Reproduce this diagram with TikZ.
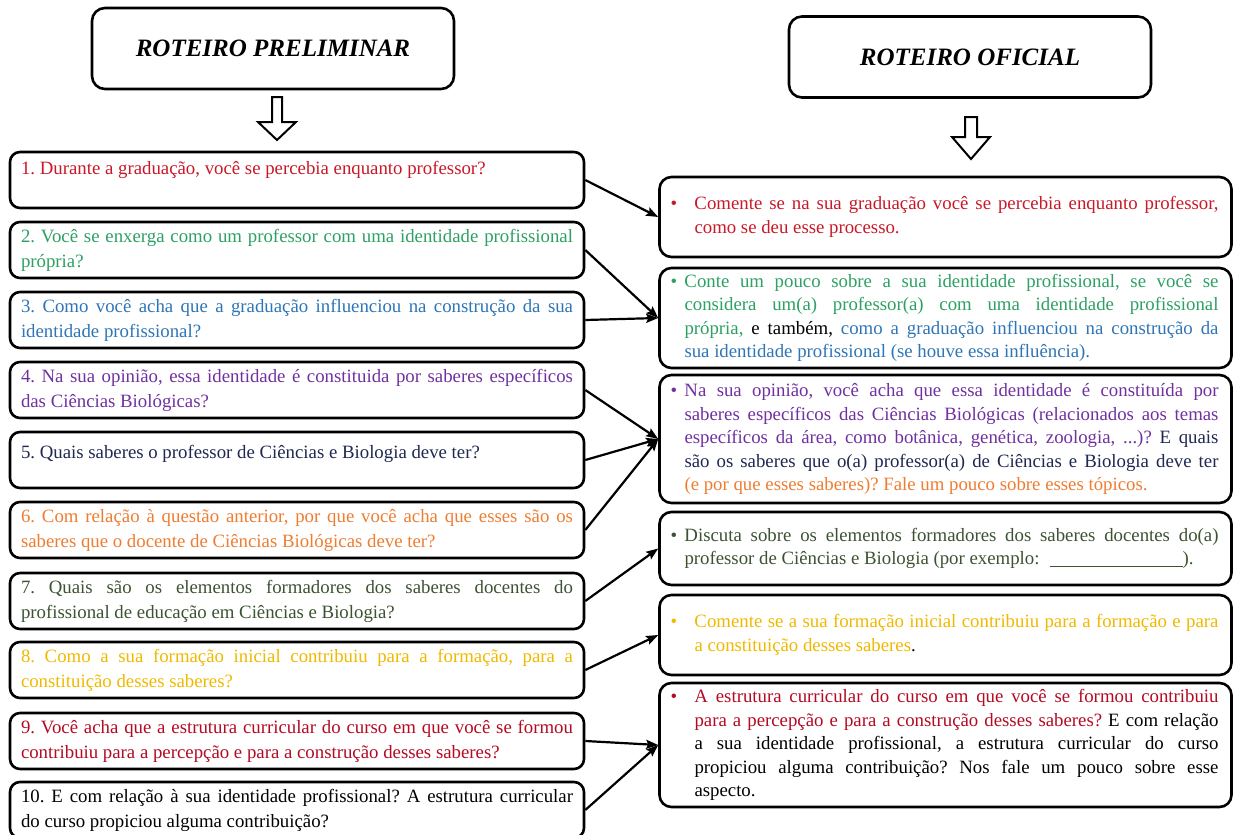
\documentclass[tikz,border=0pt]{standalone}
\usepackage{fontspec}
\setmainfont{Liberation Serif}
\usetikzlibrary{arrows.meta}
\definecolor{cRed}{RGB}{200,25,40}
\definecolor{cRedD}{RGB}{180,10,35}
\definecolor{cGreen}{RGB}{45,160,100}
\definecolor{cBlue}{RGB}{46,117,182}
\definecolor{cPurple}{RGB}{112,48,160}
\definecolor{cNavy}{RGB}{30,40,80}
\definecolor{cOrange}{RGB}{237,125,49}
\definecolor{cOlive}{RGB}{60,82,50}
\definecolor{cGold}{RGB}{240,185,0}
\newcommand\lfnt{\fontsize{18.8}{25}\selectfont\frenchspacing\hyphenpenalty=10000\tolerance=10000}
\newcommand\rfnt{\fontsize{18.8}{23.5}\selectfont\frenchspacing\hyphenpenalty=10000\tolerance=10000}
\newcommand\rtxt[2]{\makebox[#1pt][l]{\hspace{-2pt}\textbullet}\parbox[t]{\dimexpr546pt-#1pt\relax}{#2}}
\begin{document}
\begin{tikzpicture}[x=1pt,y=-1pt,
  hdr/.style={draw, line width=2.6pt, rounded corners=13pt, minimum width=362pt, minimum height=81pt, font=\fontsize{25}{30}\selectfont\bfseries\itshape},
  lbox/.style={draw, line width=2.6pt, rounded corners=10pt, minimum width=574pt, minimum height=56pt, text width=552pt, inner xsep=11pt, inner ysep=0pt, align=justify, font=\lfnt},
  rbox/.style={draw, line width=2.6pt, rounded corners=12pt, minimum width=572pt, inner xsep=13pt, inner ysep=0pt, font=\rfnt},
  conn/.style={line width=2.2pt, -{Stealth[length=12pt,width=9pt,inset=2pt]}},
  harrow/.style={draw, line width=2pt, fill=white, line join=miter}
]
\useasboundingbox (0,0) rectangle (1235,835);

% headers
\node[hdr] (hp) at (273,48.5) {ROTEIRO PRELIMINAR};
\node[hdr] (ho) at (970,57) {ROTEIRO OFICIAL};
\draw[harrow] (272,97) -- (282,97) -- (282,122) -- (296,122) -- (277,140) -- (258,122) -- (272,122) -- cycle;
\draw[harrow] (965,117) -- (977,117) -- (977,137) -- (990,137) -- (971,159) -- (952,137) -- (965,137) -- cycle;

% left boxes
\node[lbox, text=cRed] (q1) at (297,180) {1. Durante a graduação, você se percebia enquanto professor?\newline\mbox{}};
\node[lbox, text=cGreen] (q2) at (297,250) {2. Você se enxerga como um professor com uma identidade profissional\linebreak própria?};
\node[lbox, text=cBlue] (q3) at (297,320) {3. Como você acha que a graduação influenciou na construção da sua\linebreak identidade profissional?};
\node[lbox, text=cPurple] (q4) at (297,390) {4. Na sua opinião, essa identidade é constituida por saberes específicos\linebreak das Ciências Biológicas?};
\node[lbox, text=cNavy, text depth=16pt] (q5) at (297,460) {5. Quais saberes o professor de Ciências e Biologia deve ter?};
\node[lbox, text=cOrange] (q6) at (297,530) {6. Com relação à questão anterior, por que você acha que esses são os\linebreak saberes que o docente de Ciências Biológicas deve ter?};
\node[lbox, text=cOlive] (q7) at (297,601) {7. Quais são os elementos formadores dos saberes docentes do\linebreak profissional de educação em Ciências e Biologia?};
\node[lbox, text=cGold] (q8) at (297,670) {8. Como a sua formação inicial contribuiu para a formação, para a\linebreak constituição desses saberes?};
\node[lbox, text=cRedD] (q9) at (297,741) {9. Você acha que a estrutura curricular do curso em que você se formou\linebreak contribuiu para a percepção e para a construção desses saberes?};
\node[lbox, text=black] (q10) at (297,810) {10. E com relação à sua identidade profissional? A estrutura curricular\linebreak do curso propiciou alguma contribuição?};

% right boxes
\node[rbox, minimum height=80pt, text=cRed] (r1) at (945.5,217) {\rtxt{22}{Comente se na sua graduação você se percebia enquanto professor,\linebreak como se deu esse processo.}};
\node[rbox, minimum height=100pt, text=cGreen] (r2) at (945.5,318) {\rtxt{12}{Conte um pouco sobre a sua identidade profissional, se você se\linebreak considera um(a) professor(a) com uma identidade profissional\linebreak própria, \textcolor{black}{e também,} \textcolor{cBlue}{como a graduação influenciou na construção da\linebreak sua identidade profissional (se houve essa influência).}}};
\node[rbox, minimum height=128pt, text=cPurple] (r3) at (945.5,439) {\rtxt{12}{Na sua opinião, você acha que essa identidade é constituída por\linebreak saberes específicos das Ciências Biológicas (relacionados aos temas\linebreak específicos da área, como botânica, genética, zoologia, ...)? \textcolor{cNavy}{E quais\linebreak são os saberes que o(a) professor(a) de Ciências e Biologia deve ter}\linebreak \textcolor{cOrange}{(e por que esses saberes)? Fale um pouco sobre esses tópicos.}}};
\node[rbox, minimum height=73pt, text=cOlive] (r4) at (945.5,548.5) {\rtxt{12}{Discuta sobre os elementos formadores dos saberes docentes do(a)\linebreak professor de Ciências e Biologia (por exemplo:\hspace{10pt}\rule[-2pt]{133pt}{0.8pt}).}};
\node[rbox, minimum height=80pt, text=cGold] (r5) at (945.5,635) {\rtxt{22}{Comente se a sua formação inicial contribuiu para a formação e para\linebreak a constituição desses saberes\textcolor{black}{.}}};
\node[rbox, minimum height=124pt, text=cRedD] (r6) at (945.5,745) {\rtxt{22}{A estrutura curricular do curso em que você se formou contribuiu\linebreak para a percepção e para a construção desses saberes? \textcolor{black}{E com relação\linebreak a sua identidade profissional, a estrutura curricular do curso\linebreak propiciou alguma contribuição? Nos fale um pouco sobre esse\linebreak aspecto.}}};

% connectors
\draw[conn] (q1.east) -- (r1.west);
\draw[conn] (q2.east) -- (r2.west);
\draw[conn] (q3.east) -- (r2.west);
\draw[conn] (q4.east) -- (r3.west);
\draw[conn] (q5.east) -- (r3.west);
\draw[conn] (q6.east) -- (r3.west);
\draw[conn] (q7.east) -- (r4.west);
\draw[conn] (q8.east) -- (r5.west);
\draw[conn] (q9.east) -- (r6.west);
\draw[conn] (q10.east) -- (r6.west);
\end{tikzpicture}
\end{document}
